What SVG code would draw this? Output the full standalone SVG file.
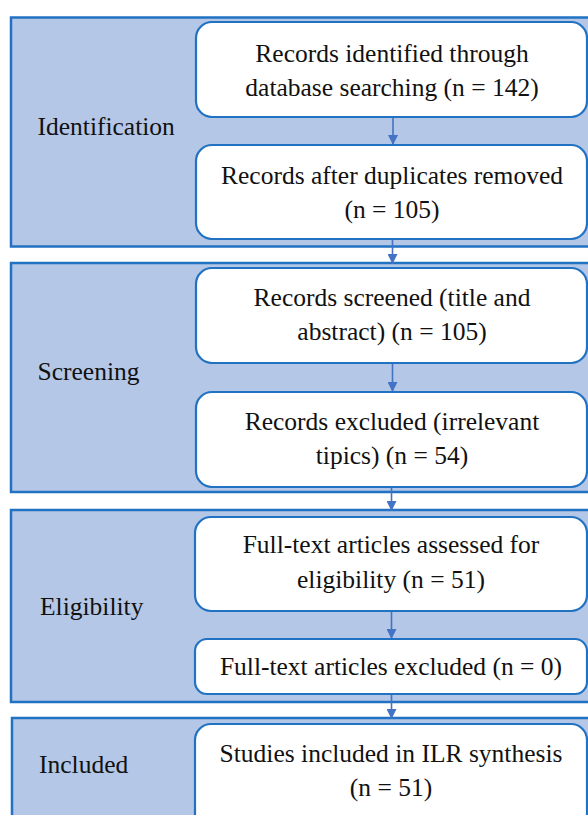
<svg xmlns="http://www.w3.org/2000/svg" width="588" height="815" viewBox="0 0 588 815">
<defs>
<style>
.sec{fill:#b4c7e7;stroke:#2272c3;stroke-width:2.5}
.box{fill:#fff;stroke:#2272c3;stroke-width:2.2}
.t{font-family:"Liberation Serif","Times New Roman",serif;font-size:25.5px;fill:#111}
.c{text-anchor:middle}
.arr{stroke:#4472c4;stroke-width:1.6;fill:none;marker-end:url(#ah)}
</style>
<marker id="ah" viewBox="0 0 10 10" refX="10" refY="5" markerWidth="10" markerHeight="10" markerUnits="userSpaceOnUse" orient="auto">
<path d="M0,0 L10,5 L0,10 z" fill="#4472c4"/>
</marker>
</defs>
<g id="sec-identification">
<rect class="sec" x="11" y="17.5" width="590" height="229"/>
<text class="t" x="37.5" y="135">Identification</text>
</g>
<g id="sec-screening">
<rect class="sec" x="11" y="263" width="590" height="229"/>
<text class="t" x="37.5" y="380">Screening</text>
</g>
<g id="sec-eligibility">
<rect class="sec" x="11" y="510" width="590" height="192"/>
<text class="t" x="40" y="615">Eligibility</text>
</g>
<g id="sec-included">
<rect class="sec" x="12" y="718" width="590" height="130"/>
<text class="t" x="39" y="773">Included</text>
</g>
<g id="connectors">
<line class="arr" x1="393" y1="117" x2="393" y2="145"/>
<line class="arr" x1="392.5" y1="239" x2="392.5" y2="264"/>
<line class="arr" x1="392.5" y1="363" x2="392.5" y2="392"/>
<line class="arr" x1="391.5" y1="487" x2="391.5" y2="511"/>
<line class="arr" x1="391.5" y1="611" x2="391.5" y2="639"/>
<line class="arr" x1="391.5" y1="694" x2="391.5" y2="719"/>
</g>
<g id="box1">
<rect class="box" x="196" y="22" width="391" height="95" rx="16"/>
<text class="t c" x="392" y="61.5">Records identified through</text>
<text class="t c" x="392" y="95.5">database searching (n = 142)</text>
</g>
<g id="box2">
<rect class="box" x="196" y="145" width="391" height="94" rx="16"/>
<text class="t c" x="392" y="184">Records after duplicates removed</text>
<text class="t c" x="392" y="218">(n = 105)</text>
</g>
<g id="box3">
<rect class="box" x="196" y="268" width="391" height="95" rx="16"/>
<text class="t c" x="392" y="306">Records screened (title and</text>
<text class="t c" x="392" y="340">abstract) (n = 105)</text>
</g>
<g id="box4">
<rect class="box" x="196" y="392" width="391" height="95" rx="16"/>
<text class="t c" x="392" y="430">Records excluded (irrelevant</text>
<text class="t c" x="392" y="464">tipics) (n = 54)</text>
</g>
<g id="box5">
<rect class="box" x="195" y="517" width="392" height="94" rx="16"/>
<text class="t c" x="391" y="553">Full-text articles assessed for</text>
<text class="t c" x="391" y="588">eligibility (n = 51)</text>
</g>
<g id="box6">
<rect class="box" x="195" y="639" width="392" height="55" rx="12"/>
<text class="t c" x="391" y="675">Full-text articles excluded (n = 0)</text>
</g>
<g id="box7">
<rect class="box" x="195" y="724" width="392" height="120" rx="16"/>
<text class="t c" x="391" y="762">Studies included in ILR synthesis</text>
<text class="t c" x="391" y="796">(n = 51)</text>
</g>
</svg>
